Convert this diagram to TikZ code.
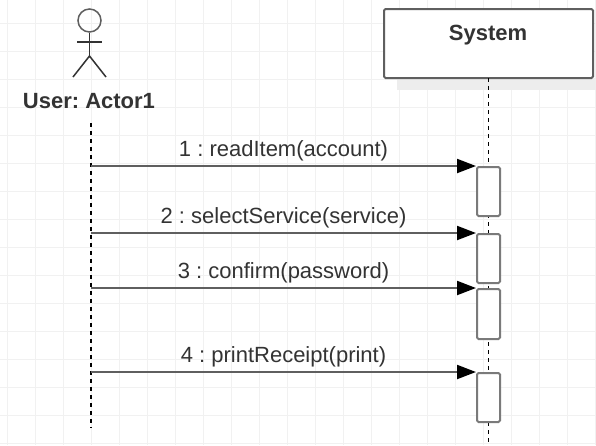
\documentclass[tikz,border=0pt]{standalone}
\usepackage{fontspec}
\setmainfont{Liberation Sans}
\usetikzlibrary{arrows.meta}
\frenchspacing
\definecolor{gridc}{HTML}{F1F1F1}
\definecolor{txt}{HTML}{333333}
\definecolor{linec}{HTML}{5F5F5F}
\definecolor{boxc}{HTML}{7A7A7A}
\definecolor{shadowc}{HTML}{EDEDED}
\begin{document}
\begin{tikzpicture}[x=1pt,y=-1pt,
  every node/.style={text=txt, font=\fontsize{22}{26}\selectfont},
  gridline/.style={draw=gridc, line width=1pt},
  lifeline/.style={draw=black, line width=1.8pt, dash pattern=on 4pt off 4pt},
  actbox/.style={draw=boxc, fill=white, line width=2pt, rounded corners=1.5pt,
                 minimum width=23pt, inner sep=0pt, anchor=north},
  objbox/.style={draw=linec, fill=white, line width=2pt, rounded corners=1.5pt,
                 minimum width=209pt, minimum height=69pt, inner sep=0pt, anchor=north west},
  msg/.style={draw=linec, line width=2pt, -{Triangle[length=19pt,width=14pt,color=black]}},
  msglabel/.style={midway, anchor=base, yshift=9.5pt},
  stick/.style={draw=txt, line width=1.5pt}]
\useasboundingbox (0,0) rectangle (596,445);
\fill[white] (0,0) rectangle (596,445);
% grid
\foreach \gx in {7,35,...,595} \draw[gridline] (\gx,0) -- (\gx,445);
\foreach \gy in {23,51,...,445} \draw[gridline] (0,\gy) -- (596,\gy);
% shadow of the object box
\fill[shadowc] (397,78) rectangle (596,90);
% system object
\node[objbox] (sys) at (383,8) {};
\node[font=\fontsize{22}{26}\selectfont\bfseries, anchor=base] (systxt) at (488,40) {System};
% actor
\node[circle, draw=linec, line width=1.5pt, minimum size=23pt, inner sep=0pt] (head) at (89.5,20.5) {};
\coordinate (hip) at (89.5,56);
\coordinate (armL) at (77,42);
\coordinate (armR) at (102,42);
\coordinate (legL) at (73,77);
\coordinate (legR) at (106,77);
\draw[stick] (head.south) -- (hip);
\draw[stick] (armL) -- (armR);
\draw[stick] (legL) -- (hip) -- (legR);
\node[font=\fontsize{22}{26}\selectfont\bfseries, anchor=base] (actor) at (89,108) {User: Actor1};
% lifelines
\coordinate (aTop) at (91,123);
\coordinate (aBot) at (91,428);
\coordinate (sTop) at (488.5,78);
\coordinate (sBot) at (488.5,445);
\draw[lifeline] (aTop) -- (aBot);
\draw[lifeline] (sTop) -- (sBot);
% activation boxes
\node[actbox, minimum height=49pt] (b1) at (488.5,166) {};
\node[actbox, minimum height=49pt] (b2) at (488.5,233) {};
\node[actbox, minimum height=50pt] (b3) at (488.5,288) {};
\node[actbox, minimum height=49pt] (b4) at (488.5,372) {};
% message sources on the actor lifeline
\coordinate (m1) at (91,166);
\coordinate (m2) at (91,233);
\coordinate (m3) at (91,288);
\coordinate (m4) at (91,372);
\draw[msg] (m1) -- (b1.north west) node[msglabel] (l1) {1 : readItem(account)};
\draw[msg] (m2) -- (b2.north west) node[msglabel] (l2) {2 : selectService(service)};
\draw[msg] (m3) -- (b3.north west) node[msglabel] (l3) {3 : confirm(password)};
\draw[msg] (m4) -- (b4.north west) node[msglabel] (l4) {4 : printReceipt(print)};
\end{tikzpicture}
\end{document}
